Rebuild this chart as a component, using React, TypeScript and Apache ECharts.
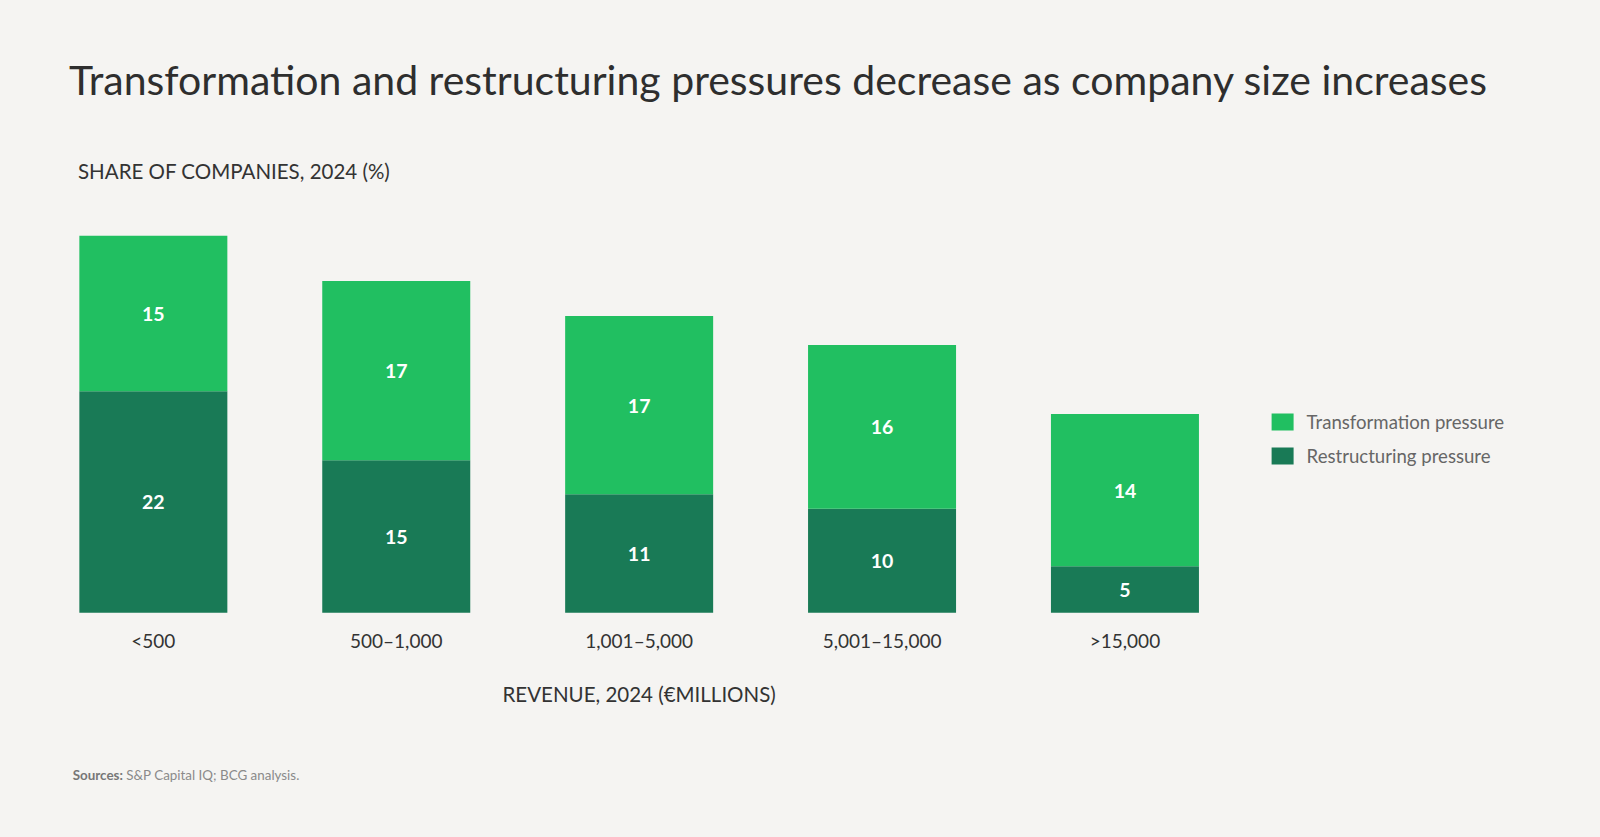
import React, { useEffect, useRef } from "react";
import * as echarts from "echarts";

const categories = ["<500", "500–1,000", "1,001–5,000", "5,001–15,000", ">15,000"];
const restructuringValues = [21.5, 14.8, 11.5, 10.1, 4.5];
const transformationValues = [15.1, 17.4, 17.3, 15.9, 14.8];
const restructuringLabels = ["22", "15", "11", "10", "5"];
const transformationLabels = ["15", "17", "17", "16", "14"];

const TITLE = "Transformation and restructuring pressures decrease as company size increases";
const Y_NAME = "SHARE OF COMPANIES, 2024 (%)";
const X_NAME = "REVENUE, 2024 (€MILLIONS)";

const FONT = "Lato, 'Noto Sans', sans-serif";
const BG = "#F5F4F2";
const LIGHT = "#21BF61";
const DARK = "#197A56";

export default function App() {
  const ref = useRef<HTMLDivElement>(null);
  useEffect(() => {
    document.body.style.margin = "0";
    document.body.style.background = BG;
    const chart = echarts.init(ref.current!, null, { renderer: "svg" });
    chart.setOption({
      animation: false,
      backgroundColor: BG,
      textStyle: { fontFamily: FONT },
      grid: { left: 31.9, right: 353.6, top: 200.7, bottom: 224.3 },
      xAxis: {
        type: "category",
        data: categories,
        axisLine: { show: false },
        axisTick: { show: false },
        axisLabel: { margin: 18, fontSize: 19, color: "#333333", fontFamily: FONT, lineHeight: 19 },
        name: X_NAME,
        nameLocation: "middle",
        nameGap: 71,
        nameTextStyle: { fontSize: 20.5, color: "#333333", fontFamily: FONT, lineHeight: 20 },
      },
      yAxis: { type: "value", min: 0, max: 40, show: false },
      legend: {
        orient: "vertical",
        left: 1266.6,
        top: 407.5,
        itemWidth: 22,
        itemHeight: 17,
        itemGap: 15,
        icon: "rect",
        data: ["Transformation pressure", "Restructuring pressure"],
        textStyle: { fontSize: 18.6, color: "#666666", fontFamily: FONT, lineHeight: 17, padding: [0, 0, 0, 8] },
      },
      series: [
        {
          name: "Restructuring pressure",
          type: "bar",
          stack: "total",
          barWidth: 148,
          data: restructuringValues,
          itemStyle: { color: DARK },
          label: {
            show: true,
            position: "inside",
            color: "#ffffff",
            fontWeight: "bold",
            fontSize: 19.5,
            fontFamily: FONT,
            formatter: (p: any) => restructuringLabels[p.dataIndex],
          },
        },
        {
          name: "Transformation pressure",
          type: "bar",
          stack: "total",
          barWidth: 148,
          data: transformationValues,
          itemStyle: { color: LIGHT },
          label: {
            show: true,
            position: "inside",
            color: "#ffffff",
            fontWeight: "bold",
            fontSize: 19.5,
            fontFamily: FONT,
            formatter: (p: any) => transformationLabels[p.dataIndex],
          },
        },
      ],
      graphic: [
        {
          type: "text",
          left: 69,
          top: 58,
          style: { text: TITLE, fontSize: 41, fontFamily: FONT, fill: "#2E2E2E", lineHeight: 43 },
        },
        {
          type: "text",
          left: 78,
          top: 160,
          style: { text: Y_NAME, fontSize: 20.5, fontFamily: FONT, fill: "#333333", lineHeight: 20 },
        },
        {
          type: "text",
          left: 72.7,
          top: 768,
          style: {
            text: "{b|Sources:} S&P Capital IQ; BCG analysis.",
            fontSize: 13.4,
            fontFamily: FONT,
            fill: "#8A8A8A",
            rich: { b: { fontWeight: "bold", fontSize: 13.4, fontFamily: FONT, fill: "#777777" } },
          },
        },
      ],
    });
    return () => chart.dispose();
  }, []);
  return <div ref={ref} style={{ position: "absolute", left: 0, top: 0, width: 1600, height: 837 }} />;
}
